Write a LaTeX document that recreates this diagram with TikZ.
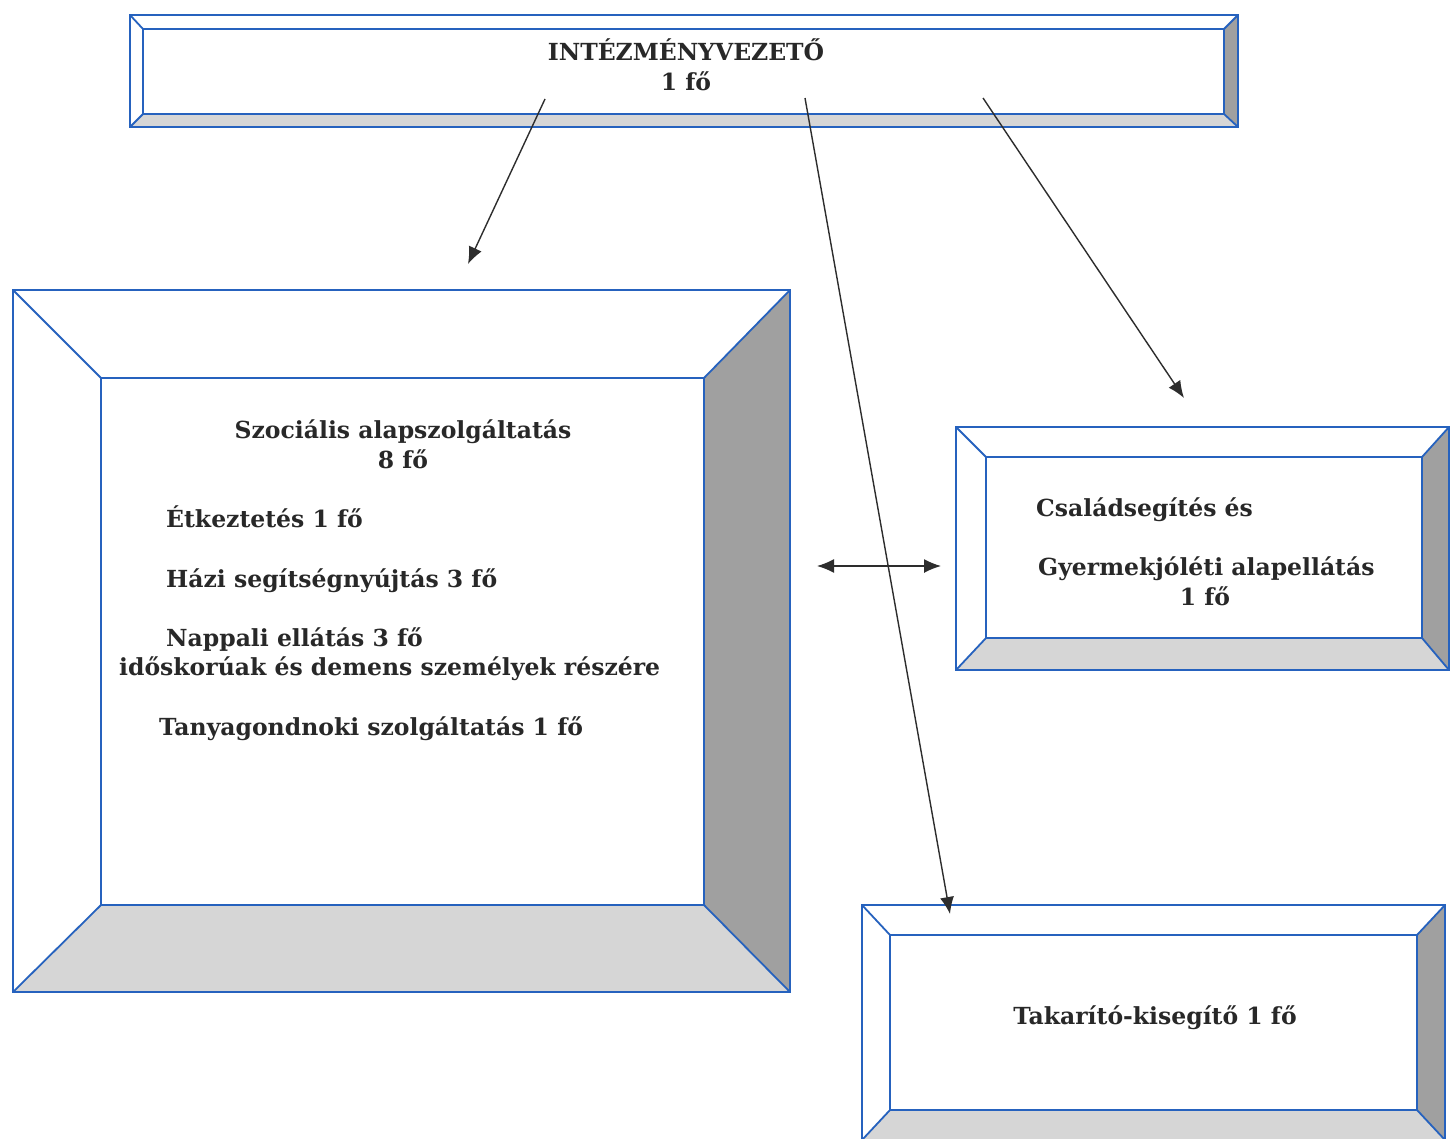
\documentclass[tikz,border=0pt]{standalone}
\usepackage{fontspec}
\setmainfont{DejaVu Serif}
\usetikzlibrary{arrows.meta}
\definecolor{bvblue}{RGB}{38,98,190}
\definecolor{bvlight}{RGB}{214,214,214}
\definecolor{bvdark}{RGB}{160,160,160}
\definecolor{txtc}{RGB}{40,40,40}
\definecolor{arrc}{RGB}{45,45,45}
\tikzset{
  bvedge/.style={draw=bvblue, line width=1.8pt, line join=miter},
  bvinner/.style={draw=bvblue, line width=1.8pt, inner sep=0pt, outer sep=0pt},
  lbl/.style={font=\bfseries\fontsize{23.5}{30}\selectfont, text=txtc, inner sep=0pt},
  conn/.style={draw=arrc, line width=1.4pt, -{Latex[length=17pt,width=14pt]}},
  dconn/.style={draw=arrc, line width=1.4pt, {Latex[length=17pt,width=14pt]}-{Latex[length=17pt,width=14pt]}}
}
% name, outer x1,y1,x2,y2, inner x1,y1,x2,y2
\newcommand{\bvbox}[9]{%
  \fill[bvlight] (#2,#5) -- (#6,#9) -- (#8,#9) -- (#4,#5) -- cycle;
  \fill[bvdark] (#4,#3) -- (#8,#7) -- (#8,#9) -- (#4,#5) -- cycle;
  \draw[bvedge] (#2,#3) rectangle (#4,#5);
  \draw[bvedge] (#2,#3) -- (#6,#7) (#4,#3) -- (#8,#7) (#2,#5) -- (#6,#9) (#4,#5) -- (#8,#9);
  \node[bvinner, minimum width={(#8-#6)*1pt}, minimum height={(#9-#7)*1pt}] (#1) at ({(#6+#8)/2},{(#7+#9)/2}) {};
}
\begin{document}
\begin{tikzpicture}[x=1pt,y=-1pt]
\useasboundingbox (0,0) rectangle (1450,1138);
\fill[white] (0,0) rectangle (1450,1138);

\bvbox{top}{130}{15}{1238}{127}{143}{29}{1224}{114}
\bvbox{szoc}{13}{290}{790}{992}{101}{378}{704}{905}
\bvbox{csal}{956}{427}{1449}{670}{986}{457}{1422}{638}
\bvbox{tak}{862}{905}{1445}{1140}{890}{935}{1417}{1110}

% texts
\node[lbl, align=center] (topt) at (686,65) {INTÉZMÉNYVEZETŐ\\1 fő};
\node[lbl, align=center] (szt) at (403,444) {Szociális alapszolgáltatás\\8 fő};
\node[lbl, anchor=mid west] (t1) at (166,525) {Étkeztetés 1 fő};
\node[lbl, anchor=mid west] (t2) at (166,585) {Házi segítségnyújtás 3 fő};
\node[lbl, anchor=mid west] (t3) at (166,644) {Nappali ellátás 3 fő};
\node[lbl, anchor=mid west] (t4) at (119,673) {időskorúak és demens személyek részére};
\node[lbl, anchor=mid west] (t5) at (159,733) {Tanyagondnoki szolgáltatás 1 fő};
\node[lbl, anchor=mid west] (c1) at (1036,514) {Családsegítés és};
\node[lbl, anchor=mid west] (c2) at (1038,573) {Gyermekjóléti alapellátás};
\node[lbl, anchor=mid] (c3) at (1205,603) {1 fő};
\node[lbl, anchor=mid] (tk) at (1155,1022) {Takarító-kisegítő 1 fő};

% connector ends
\coordinate (sa) at (545,99);
\coordinate (sb) at (805,98);
\coordinate (sc) at (983,98);
\coordinate (ea) at (468,264);
\coordinate (ec) at (1184,398);
\coordinate (eb) at (950,914);
\coordinate (dl) at (817,566);
\coordinate (dr) at (941,566);

\draw[conn] (sa) -- (ea);
\draw[conn] (sb) -- (eb);
\draw[conn] (sc) -- (ec);
\draw[dconn] (dl) -- (dr);
\end{tikzpicture}
\end{document}
